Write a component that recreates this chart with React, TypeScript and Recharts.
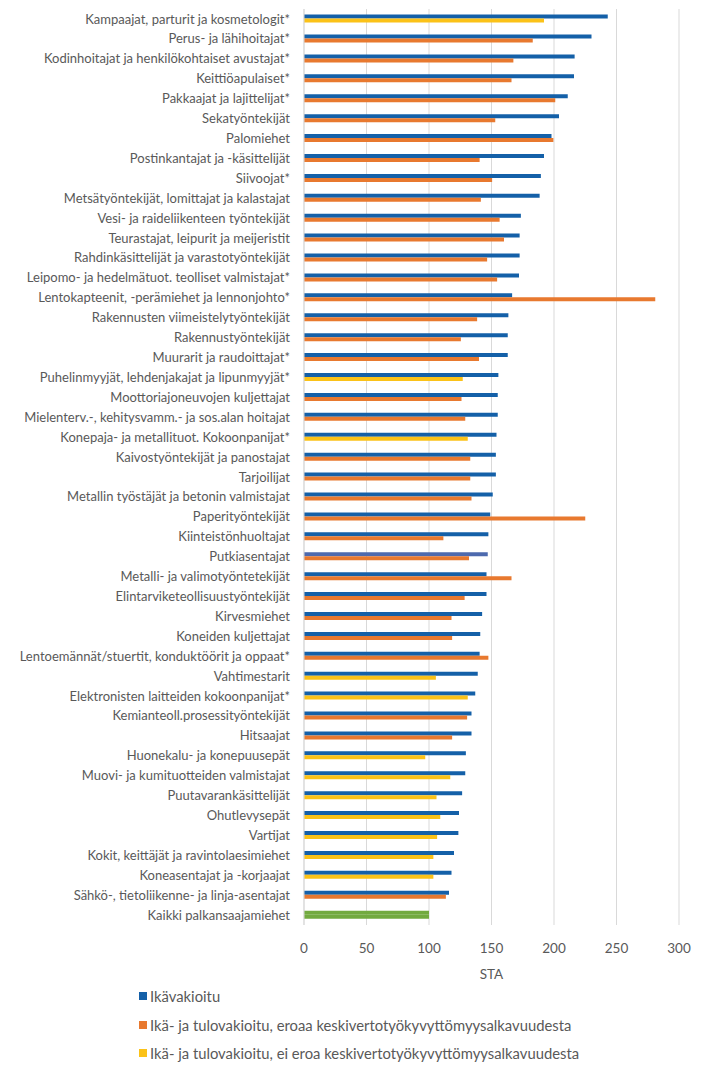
import { BarChart, Bar, XAxis, YAxis, CartesianGrid, Cell, Legend } from "recharts";

const categories = [
  "Kampaajat, parturit ja kosmetologit*",
  "Perus- ja lähihoitajat*",
  "Kodinhoitajat ja henkilökohtaiset avustajat*",
  "Keittiöapulaiset*",
  "Pakkaajat ja lajittelijat*",
  "Sekatyöntekijät",
  "Palomiehet",
  "Postinkantajat ja -käsittelijät",
  "Siivoojat*",
  "Metsätyöntekijät, lomittajat ja kalastajat",
  "Vesi- ja raideliikenteen työntekijät",
  "Teurastajat, leipurit ja meijeristit",
  "Rahdinkäsittelijät ja varastotyöntekijät",
  "Leipomo- ja hedelmätuot. teolliset valmistajat*",
  "Lentokapteenit, -perämiehet ja lennonjohto*",
  "Rakennusten viimeistelytyöntekijät",
  "Rakennustyöntekijät",
  "Muurarit ja raudoittajat*",
  "Puhelinmyyjät, lehdenjakajat ja lipunmyyjät*",
  "Moottoriajoneuvojen kuljettajat",
  "Mielenterv.-, kehitysvamm.- ja sos.alan hoitajat",
  "Konepaja- ja metallituot. Kokoonpanijat*",
  "Kaivostyöntekijät ja panostajat",
  "Tarjoilijat",
  "Metallin työstäjät ja betonin valmistajat",
  "Paperityöntekijät",
  "Kiinteistönhuoltajat",
  "Putkiasentajat",
  "Metalli- ja valimotyöntetekijät",
  "Elintarviketeollisuustyöntekijät",
  "Kirvesmiehet",
  "Koneiden kuljettajat",
  "Lentoemännät/stuertit, konduktöörit ja oppaat*",
  "Vahtimestarit",
  "Elektronisten laitteiden kokoonpanijat*",
  "Kemianteoll.prosessityöntekijät",
  "Hitsaajat",
  "Huonekalu- ja konepuusepät",
  "Muovi- ja kumituotteiden valmistajat",
  "Puutavarankäsittelijät",
  "Ohutlevysepät",
  "Vartijat",
  "Kokit, keittäjät ja ravintolaesimiehet",
  "Koneasentajat ja -korjaajat",
  "Sähkö-, tietoliikenne- ja linja-asentajat",
  "Kaikki palkansaajamiehet",
];

// ikävakioitu STA
const ikavakioitu = [
  243, 230, 216.5, 216, 211, 204, 198, 192, 189.5, 188.5,
  173.5, 172.5, 172.5, 172, 166.5, 163.5, 163, 163, 155.5, 155,
  155, 154, 153.5, 153.5, 151, 149, 147.5, 147, 146, 146,
  142.5, 141, 140.5, 139, 137, 134, 134, 129.5, 129, 126.5,
  124, 123.5, 120, 118, 116, 100,
];

// ikä- ja tulovakioitu STA
const tulovakioitu = [
  192, 183, 167.5, 166, 201, 153, 199.5, 140.5, 150.5, 141.5,
  156.5, 160, 146.5, 154.5, 281, 138.5, 125.5, 140, 127, 126,
  129, 131, 133, 133, 134, 225, 111.5, 132, 166, 128.5,
  118, 118.5, 147.5, 105.5, 131, 130.5, 118.5, 97, 117, 106,
  109, 106.5, 103.5, 103.5, 113.5, 100,
];

// e = eroaa keskivertoalkavuudesta, n = ei eroa, k = kaikki
const eroaa = [
  "n", "e", "e", "e", "e", "e", "e", "e", "e", "e",
  "e", "e", "e", "e", "e", "e", "e", "e", "n", "e",
  "e", "n", "e", "e", "e", "e", "e", "e", "e", "e",
  "e", "e", "e", "n", "n", "e", "e", "n", "n", "n",
  "n", "n", "n", "n", "e", "k",
];

const legendLabels = [
  "Ikävakioitu",
  "Ikä- ja tulovakioitu, eroaa keskivertotyökyvyttömyysalkavuudesta",
  "Ikä- ja tulovakioitu, ei eroa keskivertotyökyvyttömyysalkavuudesta",
];

const xTicks = [0, 50, 100, 150, 200, 250, 300];

const BLUE = "#1460a8";
const ORANGE = "#e8792f";
const YELLOW = "#fbc218";
const GREEN = "#72aa3f";
const legendColors = [BLUE, ORANGE, YELLOW];
const FONT = "Lato, 'Open Sans', sans-serif";
const TEXT = "#595959";

const data = categories.map((name, i) => ({
  name,
  ika: ikavakioitu[i],
  tulo: tulovakioitu[i],
  ero: eroaa[i],
}));

const blueFill = (d: { ero: string; name: string }) => {
  if (d.ero === "k") return GREEN;
  if (d.name === "Putkiasentajat") return "#4d6aae";
  return BLUE;
};
const secondFill = (ero: string) => (ero === "k" ? GREEN : ero === "n" ? YELLOW : ORANGE);

// one-line category labels (the default tick wraps long names)
const CategoryTick = (props: any) => {
  const { x, y, payload } = props;
  return (
    <text x={x} y={y} dy="0.35em" textAnchor="end" fontFamily={FONT} fontSize={13} fill={TEXT}>
      {payload.value}
    </text>
  );
};

const LegendBox = () => (
  <div style={{ fontFamily: FONT, fontSize: 14.8, color: TEXT, height: 86 }}>
    {legendLabels.map((label, i) => (
      <div key={label} style={{ display: "flex", alignItems: "center", height: 28.5, whiteSpace: "nowrap" }}>
        <span style={{ display: "inline-block", width: 8, height: 8, background: legendColors[i], marginRight: 3 }} />
        {label}
      </div>
    ))}
  </div>
);

export default function App() {
  return (
    <BarChart
      width={687}
      height={1061}
      data={data}
      layout="vertical"
      margin={{ top: 1, right: 16, bottom: 0, left: 0 }}
      barCategoryGap="28%"
      barGap={0}
    >
      <CartesianGrid horizontal={false} stroke="#d9d9d9" />
      <XAxis
        type="number"
        domain={[0, 300]}
        ticks={xTicks}
        axisLine={false}
        tickLine={false}
        tickMargin={12}
        height={58}
        tick={{ fontFamily: FONT, fontSize: 13.5, fill: TEXT }}
        label={{ value: "STA", position: "insideBottom", offset: 4, fontFamily: FONT, fontSize: 13.5, fill: TEXT }}
      />
      <YAxis
        type="category"
        dataKey="name"
        width={296}
        interval={0}
        axisLine={{ stroke: "#d9d9d9" }}
        tickLine={false}
        tickMargin={8}
        tick={<CategoryTick />}
      />
      <Legend
        verticalAlign="bottom"
        content={<LegendBox />}
        wrapperStyle={{ top: 974, left: 131, width: 520 }}
      />
      <Bar dataKey="ika" name={legendLabels[0]} fill={BLUE} isAnimationActive={false}>
        {data.map((d) => (
          <Cell key={d.name} fill={blueFill(d)} />
        ))}
      </Bar>
      <Bar dataKey="tulo" name={legendLabels[1]} fill={ORANGE} isAnimationActive={false}>
        {data.map((d) => (
          <Cell key={d.name} fill={secondFill(d.ero)} />
        ))}
      </Bar>
    </BarChart>
  );
}
